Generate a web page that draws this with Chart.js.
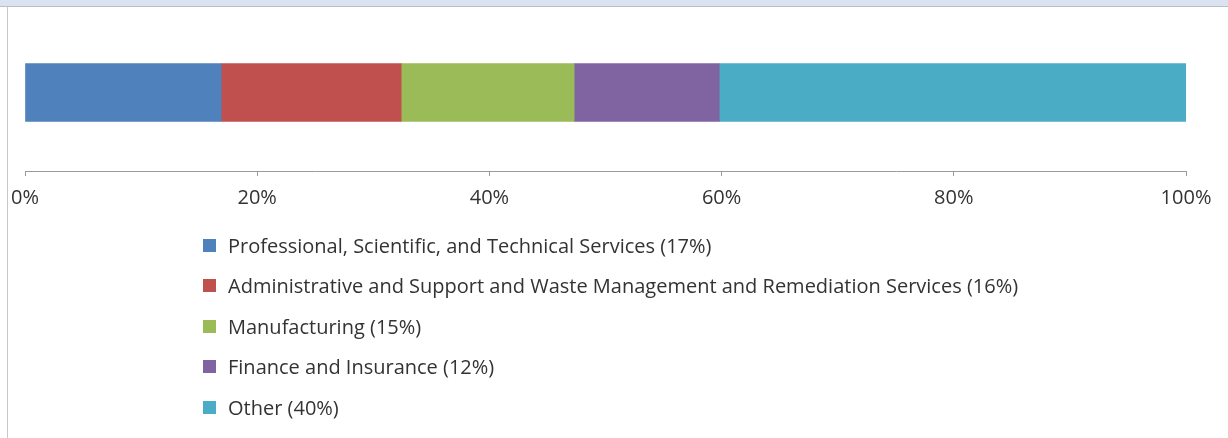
<!DOCTYPE html>
<html>
<head>
<meta charset="utf-8">
<script src="https://cdn.jsdelivr.net/npm/chart.js@4/dist/chart.umd.min.js"></script>
<style>
    html, body { margin: 0; padding: 0; background: #fff; }
    #wrap { position: relative; width: 1228px; height: 438px; overflow: hidden; background: #fff; }
    #topStrip { position: absolute; left: 0; top: 0; width: 1228px; height: 6px; background: #dbe3f1; border-bottom: 1px solid #b9bec8; }
    #leftLine { position: absolute; left: 7px; top: 7px; width: 1px; height: 431px; background: #c9c9c9; }
    #chart { position: absolute; left: 0; top: 0; }
    #legend { position: absolute; left: 203px; top: 225px; font-family: "Open Sans", sans-serif; font-size: 20px; color: #333; }
    .item { height: 40.5px; display: flex; align-items: center; white-space: nowrap; }
    .box { width: 13px; height: 13px; margin-right: 12px; }
</style>
</head>
<body>
<div id="wrap">
    <div id="topStrip"></div>
    <div id="leftLine"></div>
    <canvas id="chart" width="1228" height="438"></canvas>
    <div id="legend"></div>
</div>
<script>
// Categories (one per stacked segment) and their shares in percent
const categories = [
    'Professional, Scientific, and Technical Services',
    'Administrative and Support and Waste Management and Remediation Services',
    'Manufacturing',
    'Finance and Insurance',
    'Other'
];
const shares = [16.9, 15.5, 14.9, 12.5, 40.2];
const shareLabels = ['17%', '16%', '15%', '12%', '40%'];
const colors = ['#4f81bd', '#c0504d', '#9bbb59', '#8064a2', '#4bacc6'];
const tickValues = [0, 20, 40, 60, 80, 100];

const datasets = categories.map((name, i) => ({
    label: name + ' (' + shareLabels[i] + ')',
    data: [shares[i]],
    backgroundColor: colors[i],
    borderWidth: 0,
    barThickness: 58
}));

const chart = new Chart(document.getElementById('chart'), {
    type: 'bar',
    data: {
        labels: [''],
        datasets: datasets
    },
    options: {
        indexAxis: 'y',
        responsive: false,
        animation: false,
        layout: {
            padding: { left: 25, right: 42, top: 14, bottom: 218 }
        },
        scales: {
            x: {
                stacked: true,
                min: 0,
                max: 100,
                afterBuildTicks: axis => {
                    axis.ticks = tickValues.map(v => ({ value: v }));
                },
                ticks: {
                    callback: v => v + '%',
                    color: '#333',
                    font: { family: 'Open Sans', size: 20 },
                    padding: 10,
                    maxRotation: 0
                },
                grid: {
                    drawOnChartArea: false,
                    drawTicks: true,
                    tickLength: 5,
                    color: '#9a9a9a'
                },
                border: { display: true, color: '#9a9a9a', width: 1 }
            },
            y: {
                stacked: true,
                display: false
            }
        },
        plugins: {
            legend: { display: false },
            tooltip: { enabled: false }
        }
    }
});

// Build the vertical legend from the chart's datasets
const legendEl = document.getElementById('legend');
chart.data.datasets.forEach(ds => {
    const row = document.createElement('div');
    row.className = 'item';
    const box = document.createElement('span');
    box.className = 'box';
    box.style.background = ds.backgroundColor;
    const text = document.createElement('span');
    text.textContent = ds.label;
    row.appendChild(box);
    row.appendChild(text);
    legendEl.appendChild(row);
});
</script>
</body>
</html>
